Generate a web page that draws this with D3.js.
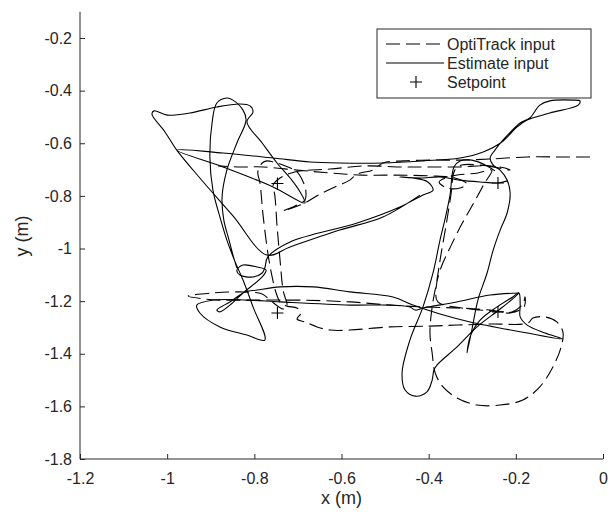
<!DOCTYPE html>
<html>
<head>
<meta charset="utf-8">
<script src="https://cdn.jsdelivr.net/npm/d3@7"></script>
<style>
body { margin: 0; background: #fff; }
text { font-family: "Liberation Sans", Arial, Helvetica, sans-serif; fill: #262626; }
</style>
</head>
<body>
<svg id="chart" width="613" height="512"></svg>
<script>
// tick values
var xTicks = [-1.2, -1, -0.8, -0.6, -0.4, -0.2, 0];
var yTicks = [-1.8, -1.6, -1.4, -1.2, -1, -0.8, -0.6, -0.4, -0.2];

// setpoints of the square
var setpoints = [[-0.747, -0.753], [-0.241, -0.751], [-0.241, -1.241], [-0.747, -1.245]];

// OptiTrack input (dashed), [x, y] in metres
var optiTrack = [
    [-0.030, -0.652], [-0.099, -0.652], [-0.174, -0.652], [-0.259, -0.660], [-0.328, -0.664],
    [-0.390, -0.664], [-0.459, -0.667], [-0.505, -0.675], [-0.528, -0.702], [-0.564, -0.717],
    [-0.581, -0.740], [-0.615, -0.766], [-0.649, -0.793], [-0.684, -0.827], [-0.707, -0.842],
    [-0.734, -0.857], [-0.707, -0.838], [-0.684, -0.816], [-0.682, -0.778], [-0.688, -0.747],
    [-0.702, -0.709], [-0.734, -0.683], [-0.757, -0.671], [-0.771, -0.667], [-0.782, -0.675],
    [-0.792, -0.709], [-0.787, -0.751], [-0.780, -0.873], [-0.769, -1.017], [-0.760, -1.101],
    [-0.750, -1.169], [-0.741, -1.203], [-0.725, -1.219], [-0.702, -1.226], [-0.693, -1.245],
    [-0.702, -1.268], [-0.684, -1.279], [-0.656, -1.298], [-0.626, -1.310], [-0.581, -1.310],
    [-0.489, -1.298], [-0.397, -1.295], [-0.335, -1.291], [-0.259, -1.287], [-0.172, -1.283],
    [-0.161, -1.264], [-0.133, -1.260], [-0.106, -1.279], [-0.092, -1.317], [-0.096, -1.374],
    [-0.115, -1.450], [-0.145, -1.526], [-0.184, -1.576], [-0.236, -1.595], [-0.289, -1.595],
    [-0.335, -1.568], [-0.367, -1.526], [-0.385, -1.473], [-0.392, -1.397], [-0.397, -1.321],
    [-0.392, -1.222], [-0.381, -1.120], [-0.372, -1.025], [-0.360, -0.911], [-0.349, -0.797],
    [-0.340, -0.702], [-0.324, -0.683], [-0.282, -0.683], [-0.225, -0.694], [-0.213, -0.702],
    [-0.271, -0.686], [-0.328, -0.690], [-0.404, -0.690], [-0.466, -0.690], [-0.546, -0.686],
    [-0.626, -0.698], [-0.707, -0.709], [-0.741, -0.732], [-0.757, -0.759], [-0.753, -0.797],
    [-0.748, -0.911], [-0.741, -1.044], [-0.734, -1.158], [-0.725, -1.222], [-0.734, -1.230],
    [-0.764, -1.196], [-0.782, -1.173], [-0.833, -1.165], [-0.895, -1.169], [-0.952, -1.181],
    [-0.913, -1.192], [-0.879, -1.196], [-0.796, -1.196], [-0.695, -1.196], [-0.581, -1.203],
    [-0.489, -1.215], [-0.413, -1.222], [-0.335, -1.226], [-0.259, -1.234], [-0.213, -1.245],
    [-0.181, -1.222], [-0.179, -1.184], [-0.184, -1.211], [-0.209, -1.241], [-0.248, -1.238],
    [-0.324, -1.226], [-0.379, -1.203], [-0.383, -1.150], [-0.372, -1.074], [-0.349, -0.990],
    [-0.324, -0.907], [-0.298, -0.831], [-0.273, -0.755], [-0.255, -0.702], [-0.287, -0.713],
    [-0.346, -0.724], [-0.376, -0.747], [-0.358, -0.770], [-0.328, -0.770], [-0.312, -0.755],
    [-0.340, -0.732], [-0.397, -0.724], [-0.477, -0.721], [-0.553, -0.721], [-0.626, -0.713],
    [-0.702, -0.702], [-0.780, -0.690], [-0.833, -0.690], [-0.883, -0.686]
];

// Estimate input (solid), three pieces
var estimateA = [
    [-0.420, -0.797], [-0.505, -0.880], [-0.604, -0.930], [-0.718, -0.994], [-0.771, -1.025],
    [-0.849, -0.876], [-0.925, -0.732], [-0.978, -0.626], [-1.005, -0.557], [-1.035, -0.489],
    [-1.030, -0.477], [-1.000, -0.493], [-0.948, -0.485], [-0.886, -0.462], [-0.833, -0.451],
    [-0.810, -0.458], [-0.803, -0.481], [-0.817, -0.519], [-0.782, -0.599], [-0.748, -0.675],
    [-0.714, -0.740], [-0.695, -0.785], [-0.684, -0.827], [-0.757, -0.766], [-0.872, -0.690],
    [-0.978, -0.626], [-0.872, -0.637], [-0.757, -0.656], [-0.672, -0.671], [-0.604, -0.675],
    [-0.505, -0.675], [-0.413, -0.667], [-0.328, -0.656], [-0.275, -0.633], [-0.232, -0.595],
    [-0.197, -0.538], [-0.174, -0.512], [-0.122, -0.485], [-0.057, -0.455], [-0.053, -0.439],
    [-0.069, -0.436], [-0.122, -0.439], [-0.145, -0.455], [-0.168, -0.504], [-0.190, -0.523],
    [-0.225, -0.580], [-0.248, -0.626], [-0.259, -0.656], [-0.252, -0.683], [-0.236, -0.702],
    [-0.220, -0.740], [-0.213, -0.789], [-0.220, -0.865], [-0.236, -0.930], [-0.252, -1.006],
    [-0.266, -1.093], [-0.287, -1.196], [-0.301, -1.310], [-0.312, -1.397], [-0.305, -1.336],
    [-0.282, -1.272], [-0.243, -1.222], [-0.207, -1.184], [-0.193, -1.169], [-0.190, -1.215],
    [-0.190, -1.260], [-0.174, -1.291], [-0.133, -1.321], [-0.092, -1.344], [-0.174, -1.321],
    [-0.305, -1.279], [-0.374, -1.249], [-0.436, -1.215], [-0.482, -1.184], [-0.581, -1.165],
    [-0.665, -1.146], [-0.741, -1.146], [-0.794, -1.158], [-0.821, -1.165], [-0.856, -1.203],
    [-0.886, -1.234], [-0.879, -1.241], [-0.856, -1.215], [-0.826, -1.169], [-0.782, -1.108],
    [-0.773, -1.082], [-0.794, -1.070], [-0.826, -1.063], [-0.840, -1.082], [-0.833, -1.101],
    [-0.803, -1.108], [-0.782, -1.093], [-0.776, -1.074], [-0.769, -1.032], [-0.718, -0.975],
    [-0.564, -0.903], [-0.466, -0.842], [-0.413, -0.797], [-0.390, -0.778], [-0.402, -0.747],
    [-0.436, -0.732], [-0.466, -0.728], [-0.420, -0.732], [-0.374, -0.728], [-0.328, -0.740],
    [-0.282, -0.747], [-0.241, -0.751], [-0.220, -0.743]
];
var estimateB = [
    [-0.840, -1.074], [-0.849, -1.025], [-0.858, -0.968], [-0.870, -0.892], [-0.874, -0.804],
    [-0.863, -0.702], [-0.840, -0.599], [-0.819, -0.512], [-0.826, -0.474], [-0.849, -0.436],
    [-0.863, -0.428], [-0.886, -0.447], [-0.897, -0.523], [-0.902, -0.652], [-0.895, -0.778],
    [-0.879, -0.880], [-0.863, -0.968], [-0.844, -1.051], [-0.826, -1.120], [-0.803, -1.222],
    [-0.776, -1.348], [-0.817, -1.329], [-0.879, -1.298], [-0.925, -1.245], [-0.932, -1.215],
    [-0.895, -1.196], [-0.817, -1.196], [-0.741, -1.203], [-0.581, -1.215], [-0.489, -1.215],
    [-0.443, -1.222], [-0.431, -1.234], [-0.413, -1.226], [-0.335, -1.203], [-0.259, -1.177],
    [-0.193, -1.169]
];
var estimateC = [
    [-0.248, -0.705], [-0.266, -0.686], [-0.301, -0.664], [-0.328, -0.667], [-0.342, -0.690],
    [-0.351, -0.797], [-0.363, -0.892], [-0.374, -0.968], [-0.390, -1.093], [-0.413, -1.222],
    [-0.443, -1.348], [-0.461, -1.473], [-0.454, -1.538], [-0.431, -1.561], [-0.404, -1.545],
    [-0.392, -1.500], [-0.388, -1.462], [-0.381, -1.443], [-0.335, -1.374], [-0.289, -1.298],
    [-0.236, -1.230], [-0.202, -1.184], [-0.193, -1.169]
];

var legendLabels = ["OptiTrack input", "Estimate input", "Setpoint"];

var svg = d3.select("#chart");
var mLeft = 80, mRight = 603, mTop = 11.7, mBottom = 459;

var x = d3.scaleLinear().domain([-1.2, 0]).range([mLeft, mRight]);
var y = d3.scaleLinear().domain([-1.8, -0.1]).range([mBottom, mTop]);

function fmt(d) { return String(+d.toFixed(1)); }

var line = d3.line()
    .x(function (d) { return x(d[0]); })
    .y(function (d) { return y(d[1]); })
    .curve(d3.curveCatmullRom.alpha(0.5));

var plot = svg.append("g");

plot.append("path")
    .datum(optiTrack)
    .attr("d", line)
    .attr("fill", "none")
    .attr("stroke", "#000")
    .attr("stroke-width", 1.1)
    .attr("stroke-dasharray", "14,6");

[estimateA, estimateB, estimateC].forEach(function (seg) {
    plot.append("path")
        .datum(seg)
        .attr("d", line)
        .attr("fill", "none")
        .attr("stroke", "#000")
        .attr("stroke-width", 1.1);
});

var plus = 6;
plot.selectAll(".sp").data(setpoints).enter().append("path")
    .attr("class", "sp")
    .attr("d", function (d) {
        var cx = x(d[0]), cy = y(d[1]);
        return "M" + (cx - plus) + "," + cy + "H" + (cx + plus) + "M" + cx + "," + (cy - plus) + "V" + (cy + plus);
    })
    .attr("stroke", "#000")
    .attr("stroke-width", 1.1);

// axes
var xAxis = svg.append("g")
    .attr("transform", "translate(0," + mBottom + ")")
    .call(d3.axisBottom(x).tickValues(xTicks).tickFormat(fmt).tickSize(-5).tickPadding(14));
var yAxis = svg.append("g")
    .attr("transform", "translate(" + mLeft + ",0)")
    .call(d3.axisLeft(y).tickValues(yTicks).tickFormat(fmt).tickSize(-5).tickPadding(8));

[xAxis, yAxis].forEach(function (a) {
    a.selectAll("path.domain").attr("stroke", "#262626");
    a.selectAll(".tick line").attr("stroke", "#262626");
    a.selectAll("text").attr("font-size", 16).attr("font-family", null).attr("fill", "#262626");
});
xAxis.select("path.domain").attr("d", "M" + mLeft + ",0H" + mRight);
yAxis.select("path.domain").attr("d", "M0," + mBottom + "V" + mTop);

svg.append("text")
    .attr("x", (mLeft + mRight) / 2)
    .attr("y", 504)
    .attr("text-anchor", "middle")
    .attr("font-size", 18)
    .text("x (m)");

svg.append("text")
    .attr("transform", "translate(28,236) rotate(-90)")
    .attr("text-anchor", "middle")
    .attr("font-size", 18)
    .text("y (m)");

// legend
var lg = svg.append("g").attr("transform", "translate(377,29)");
lg.append("rect")
    .attr("width", 214).attr("height", 69)
    .attr("fill", "#fff").attr("stroke", "#262626").attr("stroke-width", 1);

var rowY = [15, 34, 53];
lg.append("line").attr("x1", 9).attr("x2", 67).attr("y1", rowY[0]).attr("y2", rowY[0])
    .attr("stroke", "#000").attr("stroke-width", 1.1).attr("stroke-dasharray", "14,6");
lg.append("line").attr("x1", 9).attr("x2", 67).attr("y1", rowY[1]).attr("y2", rowY[1])
    .attr("stroke", "#000").attr("stroke-width", 1.1);
lg.append("path")
    .attr("d", "M" + (39 - plus) + "," + rowY[2] + "H" + (39 + plus) + "M39," + (rowY[2] - plus) + "V" + (rowY[2] + plus))
    .attr("stroke", "#000").attr("stroke-width", 1.1);

lg.selectAll(".lt").data(legendLabels).enter().append("text")
    .attr("class", "lt")
    .attr("x", 70)
    .attr("y", function (d, i) { return rowY[i] + 6; })
    .attr("font-size", 16)
    .text(function (d) { return d; });
</script>
</body>
</html>
